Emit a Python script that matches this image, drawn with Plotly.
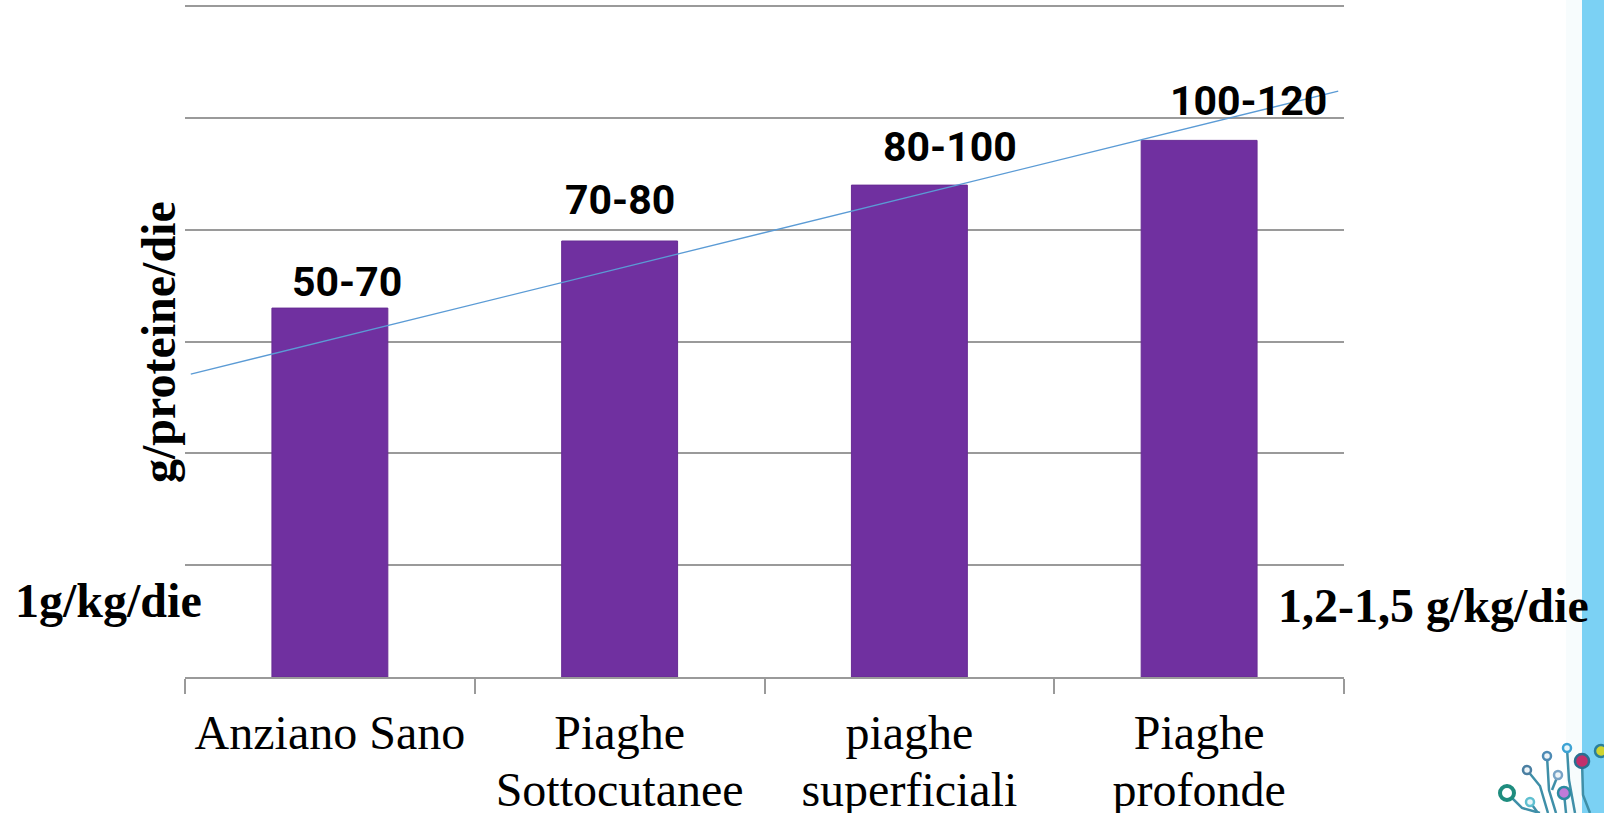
import plotly.graph_objects as go

# --- data -------------------------------------------------------------
categories = [["Anziano Sano", ""], ["Piaghe", "Sottocutanee"],
              ["piaghe", "superficiali"], ["Piaghe", "profonde"]]
bar_values = [3.3, 3.9, 4.4, 4.8]
range_labels = ["50-70", "70-80", "80-100", "100-120"]
trend_x = [-0.48, 3.48]
trend_y = [2.71, 5.24]
left_note = "1g/kg/die"
right_note = "1,2-1,5 g/kg/die"
y_title = "g/proteine/die"

# --- layout constants ---------------------------------------------------
W, H = 1604, 813
L, R, T, B = 185, 1344, 4, 677          # plot area in pixels
Y_MAX = 6.02
GRID = "#9a9a9a"
PURPLE = "#7030a0"
label_dx = [0.06, 0.0, 0.14, 0.17]
label_dy = [0.23, 0.37, 0.34, 0.35]
SERIF = "Liberation Serif"


def px(xp, yp):
    """pixel position -> paper coordinates"""
    return (xp - L) / (R - L), (B - yp) / (B - T)


xs = list(range(len(categories)))
line1 = [c[0] for c in categories]
line2 = [c[1] for c in categories]

fig = go.Figure()
fig.add_trace(go.Bar(
    x=xs, y=bar_values, width=0.4,
    marker=dict(color=PURPLE, line=dict(color="#672c93", width=1)),
    xaxis="x", yaxis="y", showlegend=False, hoverinfo="skip",
))
fig.add_trace(go.Scatter(
    x=trend_x, y=trend_y, mode="lines",
    line=dict(color="#5b9bd5", width=1.3),
    xaxis="x2", yaxis="y", showlegend=False, hoverinfo="skip",
))

annotations = []
for i, (v, t) in enumerate(zip(bar_values, range_labels)):
    annotations.append(dict(
        x=i + label_dx[i], y=v + label_dy[i], xref="x", yref="y",
        text=f"<b>{t}</b>", showarrow=False, xanchor="center", yanchor="middle",
        font=dict(family="Roboto", size=41, color="black"),
    ))

ax, ay = px(158, 342)
annotations.append(dict(
    x=ax, y=ay, xref="paper", yref="paper", text=f"<b>{y_title}</b>",
    textangle=-90, showarrow=False, xanchor="center", yanchor="middle",
    font=dict(family=SERIF, size=48, color="black"),
))
ax, ay = px(13, 600)
annotations.append(dict(
    x=ax, y=ay, xref="paper", yref="paper", text=f"<b>{left_note}</b>",
    showarrow=False, xanchor="left", yanchor="middle",
    font=dict(family=SERIF, size=48, color="black"),
))
ax, ay = px(1276, 605)
annotations.append(dict(
    x=ax, y=ay, xref="paper", yref="paper", text=f"<b>{right_note}</b>",
    showarrow=False, xanchor="left", yanchor="middle",
    font=dict(family=SERIF, size=48, color="black"),
))

shapes = []
# blue band on the right edge with a soft fade
x0, _ = px(1566, 0)
x1, _ = px(1582, 0)
x2, _ = px(1604, 0)
_, yb = px(0, H)
_, yt = px(0, 0)
shapes.append(dict(type="rect", xref="paper", yref="paper", x0=x0, x1=x1, y0=yb, y1=yt,
                   fillcolor="#f7fcfd", line=dict(width=0), layer="below"))
shapes.append(dict(type="rect", xref="paper", yref="paper", x0=x1, x1=x2 + 0.01, y0=yb, y1=yt,
                   fillcolor="#7bd1f4", line=dict(width=0), layer="above"))

# small circuit-tree logo, bottom right
branches = [
    [(1507, 793), (1522, 808), (1540, 813)],
    [(1527, 770), (1540, 786), (1548, 813)],
    [(1547, 756), (1549, 790), (1556, 813)],
    [(1558, 775), (1552, 790)],
    [(1567, 748), (1569, 780), (1575, 813)],
    [(1582, 761), (1583, 795), (1590, 813)],
    [(1564, 793), (1566, 813)],
    [(1530, 802), (1538, 813)],
]
for br in branches:
    path = ""
    for k, (bx, by) in enumerate(br):
        qx, qy = px(bx, by)
        path += ("M" if k == 0 else "L") + f"{qx},{qy} "
    shapes.append(dict(type="path", xref="paper", yref="paper", path=path,
                       line=dict(color="#3f8fa8", width=2.5), layer="above"))
dots = [
    (1507, 793, 7, "#ffffff", "#1e8c7e", 4),
    (1530, 802, 4, "#e8f6fa", "#5fbfd0", 2.5),
    (1527, 770, 4, "#eef4f8", "#4b7fa2", 2.5),
    (1547, 756, 4, "#eef4f8", "#4d8ab4", 2.5),
    (1558, 775, 4, "#eef4f8", "#79a3c6", 2.5),
    (1567, 748, 4, "#e8f6fa", "#3ea3d4", 2.5),
    (1564, 793, 6, "#c07ad8", "#2b8aa0", 2.5),
    (1582, 761, 7, "#c2306c", "#2a6f90", 2.5),
    (1601, 751, 6, "#cfd430", "#2a7f9a", 2.5),
]
for cx, cy, r, fill, edge, lw in dots:
    qx0, qy0 = px(cx - r, cy + r)
    qx1, qy1 = px(cx + r, cy - r)
    shapes.append(dict(type="circle", xref="paper", yref="paper",
                       x0=qx0, x1=qx1, y0=qy0, y1=qy1,
                       fillcolor=fill, line=dict(color=edge, width=lw), layer="above"))

tickfont = dict(family=SERIF, size=48, color="black")
fig.update_layout(
    width=W, height=H,
    margin=dict(l=L, r=W - R, t=T, b=H - B, pad=0, autoexpand=False),
    paper_bgcolor="white", plot_bgcolor="white",
    xaxis=dict(
        range=[-0.5, 3.5], tickmode="array", tickvals=xs, ticktext=line1,
        ticks="", showgrid=False, zeroline=False, showline=True,
        linecolor=GRID, linewidth=2, automargin=False,
        tickfont=tickfont, ticklabelstandoff=12,
        minor=dict(tickmode="array", tickvals=[-0.5, 0.5, 1.5, 2.5, 3.5],
                   ticks="outside", ticklen=15, tickwidth=2, tickcolor=GRID,
                   showgrid=False),
    ),
    xaxis2=dict(
        range=[-0.5, 3.5], overlaying="x", anchor="y", side="bottom",
        tickmode="array", tickvals=xs, ticktext=line2,
        ticks="", showgrid=False, zeroline=False, showline=False, automargin=False,
        tickfont=tickfont, ticklabelstandoff=80,
    ),
    yaxis=dict(
        range=[0, Y_MAX], dtick=1, tick0=0, showgrid=True, gridcolor=GRID, gridwidth=2,
        showticklabels=False, ticks="", zeroline=False, showline=False, automargin=False,
    ),
    bargap=0.6,
    annotations=annotations,
    shapes=shapes,
)

fig.write_html("out.html")
